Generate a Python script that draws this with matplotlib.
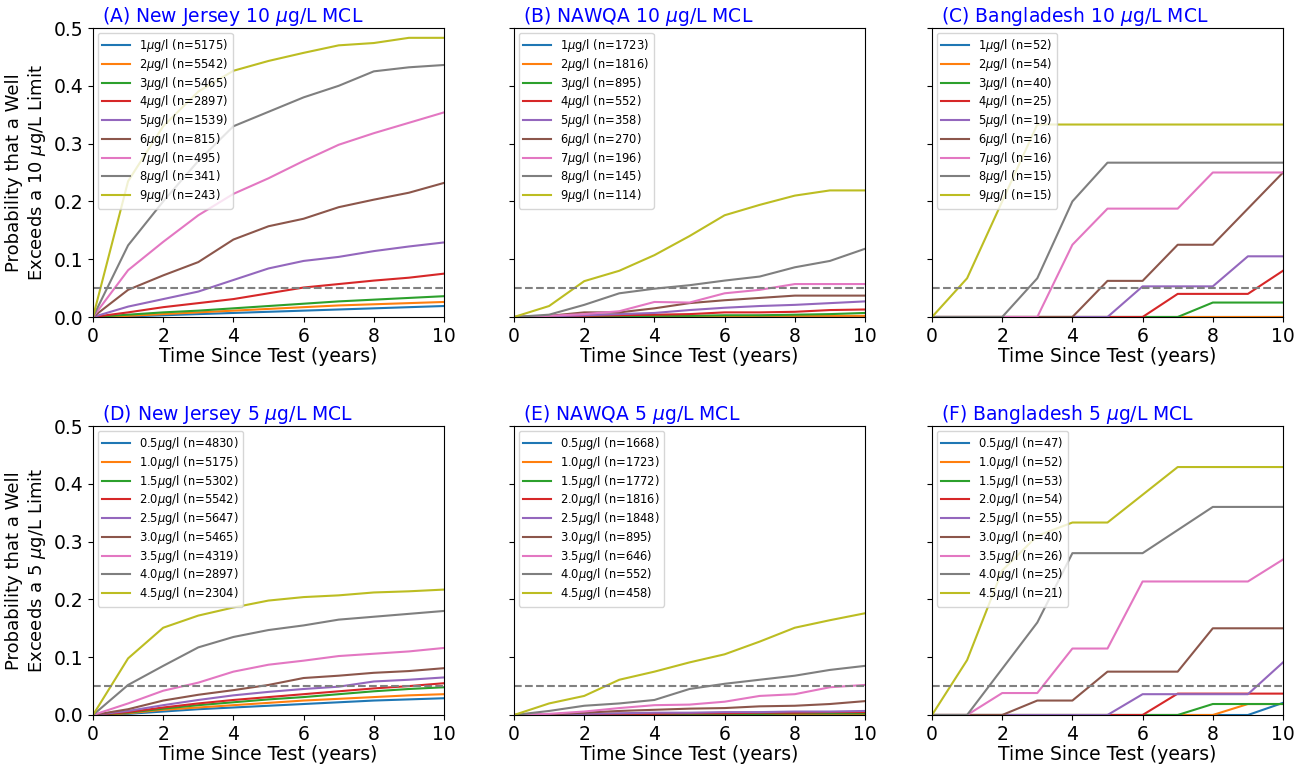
import numpy as np
import matplotlib
matplotlib.use("Agg")
import matplotlib.pyplot as plt

years = np.arange(0, 11)

# (A) New Jersey, 10 ug/L MCL
nj10_levels = [1, 2, 3, 4, 5, 6, 7, 8, 9]
nj10_n = [5175, 5542, 5465, 2897, 1539, 815, 495, 341, 243]
nj10 = [
    [0, 0.001, 0.003, 0.005, 0.007, 0.009, 0.011, 0.013, 0.015, 0.017, 0.019],
    [0, 0.002, 0.005, 0.008, 0.011, 0.014, 0.017, 0.020, 0.022, 0.024, 0.026],
    [0, 0.004, 0.008, 0.011, 0.015, 0.019, 0.023, 0.027, 0.030, 0.033, 0.036],
    [0, 0.008, 0.017, 0.024, 0.031, 0.041, 0.051, 0.057, 0.063, 0.068, 0.075],
    [0, 0.018, 0.031, 0.044, 0.064, 0.084, 0.097, 0.104, 0.114, 0.122, 0.129],
    [0, 0.047, 0.072, 0.095, 0.134, 0.157, 0.170, 0.190, 0.203, 0.215, 0.232],
    [0, 0.081, 0.130, 0.176, 0.213, 0.240, 0.270, 0.298, 0.318, 0.336, 0.354],
    [0, 0.124, 0.200, 0.270, 0.330, 0.355, 0.380, 0.400, 0.425, 0.432, 0.436],
    [0, 0.235, 0.330, 0.390, 0.426, 0.443, 0.457, 0.470, 0.474, 0.483, 0.483],
]

# (B) NAWQA, 10 ug/L MCL
nw10_levels = [1, 2, 3, 4, 5, 6, 7, 8, 9]
nw10_n = [1723, 1816, 895, 552, 358, 270, 196, 145, 114]
nw10 = [
    [0, 0, 0, 0, 0, 0.001, 0.001, 0.001, 0.001, 0.001, 0.001],
    [0, 0, 0, 0.001, 0.001, 0.001, 0.001, 0.002, 0.002, 0.002, 0.002],
    [0, 0, 0.001, 0.001, 0.002, 0.002, 0.003, 0.003, 0.004, 0.005, 0.007],
    [0, 0, 0.002, 0.003, 0.004, 0.005, 0.008, 0.008, 0.009, 0.012, 0.013],
    [0, 0.001, 0.003, 0.005, 0.007, 0.012, 0.016, 0.019, 0.021, 0.024, 0.027],
    [0, 0.002, 0.008, 0.008, 0.015, 0.024, 0.029, 0.033, 0.037, 0.037, 0.037],
    [0, 0.002, 0.005, 0.010, 0.026, 0.025, 0.041, 0.047, 0.057, 0.057, 0.057],
    [0, 0.004, 0.021, 0.041, 0.049, 0.055, 0.063, 0.070, 0.086, 0.097, 0.118],
    [0, 0.019, 0.062, 0.080, 0.107, 0.140, 0.176, 0.194, 0.210, 0.219, 0.219],
]

# (C) Bangladesh, 10 ug/L MCL
bd10_levels = [1, 2, 3, 4, 5, 6, 7, 8, 9]
bd10_n = [52, 54, 40, 25, 19, 16, 16, 15, 15]
bd10 = [
    [0, 0, 0, 0, 0, 0, 0, 0, 0, 0, 0],
    [0, 0, 0, 0, 0, 0, 0, 0, 0, 0, 0],
    [0, 0, 0, 0, 0, 0, 0, 0, 0.025, 0.025, 0.025],
    [0, 0, 0, 0, 0, 0, 0, 0.04, 0.04, 0.04, 0.08],
    [0, 0, 0, 0, 0, 0, 0.053, 0.053, 0.053, 0.105, 0.105],
    [0, 0, 0, 0, 0, 0.0625, 0.0625, 0.125, 0.125, 0.1875, 0.25],
    [0, 0, 0, 0, 0.125, 0.1875, 0.1875, 0.1875, 0.25, 0.25, 0.25],
    [0, 0, 0, 0.067, 0.2, 0.267, 0.267, 0.267, 0.267, 0.267, 0.267],
    [0, 0.067, 0.2, 0.333, 0.333, 0.333, 0.333, 0.333, 0.333, 0.333, 0.333],
]

# (D) New Jersey, 5 ug/L MCL
nj5_levels = [0.5, 1.0, 1.5, 2.0, 2.5, 3.0, 3.5, 4.0, 4.5]
nj5_n = [4830, 5175, 5302, 5542, 5647, 5465, 4319, 2897, 2304]
nj5 = [
    [0, 0.002, 0.006, 0.010, 0.013, 0.016, 0.019, 0.022, 0.025, 0.027, 0.029],
    [0, 0.003, 0.009, 0.013, 0.017, 0.021, 0.025, 0.028, 0.031, 0.034, 0.036],
    [0, 0.004, 0.011, 0.017, 0.022, 0.027, 0.031, 0.036, 0.041, 0.045, 0.048],
    [0, 0.005, 0.013, 0.020, 0.026, 0.031, 0.036, 0.041, 0.046, 0.050, 0.055],
    [0, 0.007, 0.017, 0.026, 0.034, 0.040, 0.045, 0.049, 0.058, 0.061, 0.065],
    [0, 0.010, 0.025, 0.035, 0.043, 0.052, 0.064, 0.068, 0.073, 0.076, 0.081],
    [0, 0.020, 0.042, 0.056, 0.075, 0.087, 0.094, 0.102, 0.106, 0.110, 0.116],
    [0, 0.052, 0.085, 0.117, 0.135, 0.147, 0.155, 0.165, 0.170, 0.175, 0.180],
    [0, 0.098, 0.151, 0.172, 0.186, 0.198, 0.204, 0.207, 0.212, 0.214, 0.217],
]

# (E) NAWQA, 5 ug/L MCL
nw5_levels = [0.5, 1.0, 1.5, 2.0, 2.5, 3.0, 3.5, 4.0, 4.5]
nw5_n = [1668, 1723, 1772, 1816, 1848, 895, 646, 552, 458]
nw5 = [
    [0, 0, 0, 0, 0.001, 0.001, 0.001, 0.001, 0.001, 0.001, 0.001],
    [0, 0, 0, 0.001, 0.001, 0.001, 0.001, 0.002, 0.002, 0.002, 0.002],
    [0, 0, 0.001, 0.001, 0.001, 0.002, 0.002, 0.002, 0.003, 0.003, 0.003],
    [0, 0, 0.001, 0.002, 0.002, 0.003, 0.003, 0.004, 0.004, 0.005, 0.005],
    [0, 0.001, 0.002, 0.003, 0.004, 0.004, 0.005, 0.005, 0.006, 0.006, 0.007],
    [0, 0.001, 0.004, 0.007, 0.009, 0.011, 0.012, 0.015, 0.016, 0.019, 0.024],
    [0, 0.002, 0.006, 0.012, 0.017, 0.018, 0.023, 0.033, 0.036, 0.048, 0.052],
    [0, 0.007, 0.016, 0.020, 0.026, 0.045, 0.054, 0.061, 0.068, 0.078, 0.085],
    [0, 0.020, 0.033, 0.061, 0.075, 0.091, 0.105, 0.127, 0.151, 0.164, 0.176],
]

# (F) Bangladesh, 5 ug/L MCL
bd5_levels = [0.5, 1.0, 1.5, 2.0, 2.5, 3.0, 3.5, 4.0, 4.5]
bd5_n = [47, 52, 53, 54, 55, 40, 26, 25, 21]
bd5 = [
    [0, 0, 0, 0, 0, 0, 0, 0, 0, 0, 0.021],
    [0, 0, 0, 0, 0, 0, 0, 0, 0, 0.019, 0.019],
    [0, 0, 0, 0, 0, 0, 0, 0, 0.019, 0.019, 0.019],
    [0, 0, 0, 0, 0, 0, 0, 0.037, 0.037, 0.037, 0.037],
    [0, 0, 0, 0, 0, 0, 0.036, 0.036, 0.036, 0.036, 0.091],
    [0, 0, 0, 0.025, 0.025, 0.075, 0.075, 0.075, 0.15, 0.15, 0.15],
    [0, 0, 0.038, 0.038, 0.115, 0.115, 0.231, 0.231, 0.231, 0.231, 0.269],
    [0, 0, 0.08, 0.16, 0.28, 0.28, 0.28, 0.32, 0.36, 0.36, 0.36],
    [0, 0.095, 0.25, 0.31, 0.333, 0.333, 0.381, 0.429, 0.429, 0.429, 0.429],
]

panels = [
    ("(A) New Jersey 10 $\\mu$g/L MCL", nj10_levels, nj10_n, nj10, "%d"),
    ("(B) NAWQA 10 $\\mu$g/L MCL", nw10_levels, nw10_n, nw10, "%d"),
    ("(C) Bangladesh 10 $\\mu$g/L MCL", bd10_levels, bd10_n, bd10, "%d"),
    ("(D) New Jersey 5 $\\mu$g/L MCL", nj5_levels, nj5_n, nj5, "%.1f"),
    ("(E) NAWQA 5 $\\mu$g/L MCL", nw5_levels, nw5_n, nw5, "%.1f"),
    ("(F) Bangladesh 5 $\\mu$g/L MCL", bd5_levels, bd5_n, bd5, "%.1f"),
]
ylabels = ["Probability that a Well\nExceeds a 10 $\\mu$g/L Limit",
           "Probability that a Well\nExceeds a 5 $\\mu$g/L Limit"]

fig = plt.figure(figsize=(13.07, 7.68), dpi=100)
W, H = 1307.0, 768.0
lefts = [93, 514, 932]
tops = [28, 426]
aw, ah = 351, 289

for k, (title, levels, ns, vals, fmt) in enumerate(panels):
    r, c = divmod(k, 3)
    ax = fig.add_axes([lefts[c] / W, 1 - (tops[r] + ah) / H, aw / W, ah / H])
    for lev, n, v in zip(levels, ns, vals):
        ax.plot(years, v, lw=1.5, label=(fmt % lev) + "$\\mu$g/l (n=%d)" % n)
    ax.axhline(0.05, color="gray", ls="--", lw=1.5)
    ax.set_xlim(0, 10)
    ax.set_ylim(0, 0.5)
    ax.set_xticks([0, 2, 4, 6, 8, 10])
    ax.set_yticks([0, 0.1, 0.2, 0.3, 0.4, 0.5])
    ax.tick_params(labelsize=13.5)
    if c == 0:
        ax.set_ylabel(ylabels[r], fontsize=13)
    else:
        ax.set_yticklabels([])
    ax.set_xlabel("Time Since Test (years)", fontsize=13.5, labelpad=1)
    ax.text(0.025, 1.0, title, transform=ax.transAxes, color="blue",
            fontsize=13.5, ha="left", va="bottom")
    ax.legend(loc="upper left", fontsize=8.3, handlelength=2.4,
              labelspacing=0.15, borderaxespad=0.4)

fig.savefig("out.png", dpi=100)
